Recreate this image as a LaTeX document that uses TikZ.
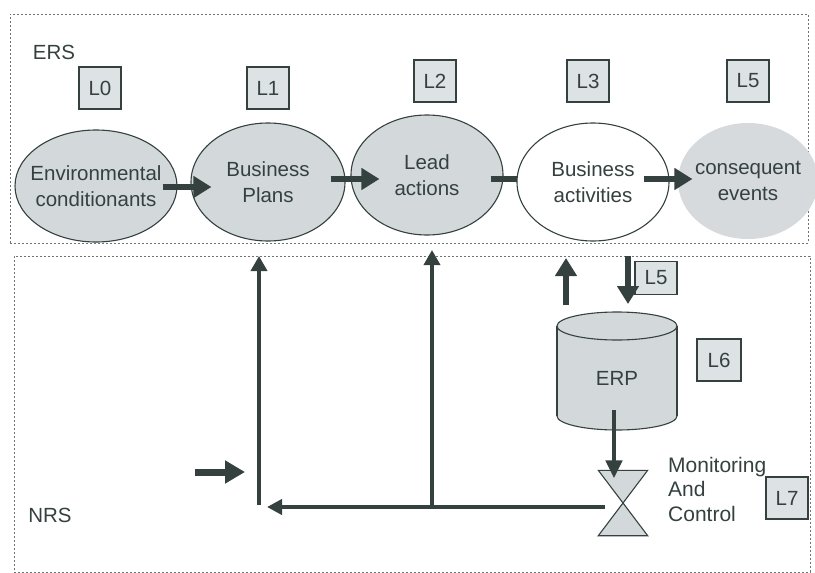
\documentclass[tikz,border=0pt]{standalone}
\usepackage{fontspec}
\setmainfont{Liberation Sans}
\usetikzlibrary{arrows.meta,shapes.geometric,calc}
\definecolor{ink}{HTML}{34413F}
\definecolor{fillA}{HTML}{D3D9DB}
\definecolor{fillB}{HTML}{DDE2E4}
\definecolor{fillC}{HTML}{D6DADC}
\definecolor{dashc}{HTML}{6E7675}
\begin{document}
\begin{tikzpicture}[x=1pt,y=-1pt,
 lbl/.style={font=\fontsize{20.5}{23}\selectfont, text=ink, inner sep=0pt},
 etext/.style={align=center, font=\fontsize{20.5}{25.5}\selectfont, text=ink, inner sep=0pt},
 ell/.style={ellipse, draw=ink, line width=1.1pt, fill=fillA, inner sep=0pt},
 tag/.style={rectangle, draw=ink, line width=1.3pt, fill=fillB, minimum width=42pt, minimum height=42pt, inner sep=0pt, font=\fontsize{20.5}{23}\selectfont, text=ink},
 region/.style={rectangle, draw=dashc, line width=0.8pt, dash pattern=on 2pt off 2pt, inner sep=0pt, anchor=north west},
 bigarrow/.style={draw=ink, line width=6pt, -{Triangle[length=18pt,width=21pt]}},
 thinarrow/.style={draw=ink, line width=3.5pt, -{Triangle[length=15pt,width=16pt]}},
 stub/.style={draw=ink, line width=6pt},
 glass/.style={draw=ink, line width=1.1pt, fill=fillA, line join=miter},
]
\useasboundingbox (0,0) rectangle (815,573);

% regions
\node[region, minimum width=798pt, minimum height=229pt] (ers) at (10,14) {};
\node[region, minimum width=796pt, minimum height=316pt] (nrs) at (14,256) {};
\node[lbl] (ersl) at (54,52) {ERS};
\node[lbl] (nrsl) at (50,515) {NRS};

% tags
\node[tag] (l0) at (100,88) {L0};
\node[tag] (l1) at (268,88) {L1};
\node[tag] (l2) at (435,81) {L2};
\node[tag] (l3) at (588,81) {L3};
\node[tag] (l5) at (748,81) {L5};
\node[tag, minimum height=33pt] (l5b) at (656,278) {L5};
\node[tag, minimum width=44pt] (l6) at (719,360) {L6};
\node[tag] (l7) at (787,498) {L7};

% ellipses
\node[ell, minimum width=162pt, minimum height=112pt, label={[etext]center:Environmental\\conditionants}] (env) at (96,186) {};
\node[ell, minimum width=154pt, minimum height=118pt, label={[etext]center:Business\\Plans}] (bp) at (268,182) {};
\node[ell, minimum width=152pt, minimum height=120pt, label={[etext]center:Lead\\actions}] (lead) at (427,175) {};
\node[ell, fill=white, minimum width=152pt, minimum height=118pt, label={[etext]center:Business\\activities}] (ba) at (593,182) {};
\node[ell, draw=none, fill=fillC, minimum width=140pt, minimum height=116pt, label={[etext]center:consequent\\events}] (ce) at (748,181) {};

% arrows between ellipses
\draw[bigarrow] ([xshift=-15pt,yshift=-1pt]env.east) -- ([xshift=21pt,yshift=-5pt]bp.west);
\draw[bigarrow] ([xshift=-15pt,yshift=3pt]bp.east) -- ([xshift=29pt,yshift=-4pt]lead.west);
\draw[stub] ([xshift=-13pt,yshift=-4pt]lead.east) -- ([xshift=1pt,yshift=3pt]ba.west);
\draw[bigarrow] ([xshift=-26pt,yshift=3pt]ba.east) -- ([xshift=15pt,yshift=2pt]ce.west);

% ERP cylinder
\draw[draw=ink, line width=1.1pt, fill=fillA] (617,416) ellipse [x radius=60, y radius=14];
\fill[fillA] (557,326) rectangle (677,416);
\draw[ink, line width=1.1pt] (557,326) -- (557,416) (677,326) -- (677,416);
\draw[draw=ink, line width=1.1pt, fill=fillA] (617,326) ellipse [x radius=60, y radius=14];
\node[lbl] (erp) at (617,378) {ERP};

% hourglass
\node[minimum width=49pt, minimum height=65pt, inner sep=0pt] (hg) at (623,503) {};
\draw[glass] (hg.north west) -- (hg.north east) -- (hg.center) -- cycle;
\draw[glass] (hg.center) -- (hg.south west) -- (hg.south east) -- cycle;
\node[lbl, align=left, anchor=west, font=\fontsize{21}{24.5}\selectfont] (mon) at (668,489) {Monitoring\\And\\Control};

% ERS <-> ERP
\coordinate (u0) at (566,305);
\coordinate (d1) at (628,304);
\draw[bigarrow] (u0) -- ($(u0 |- nrs.north)+(0,2)$);
\draw[bigarrow] (d1 |- nrs.north) -- (d1);

% ERP -> monitoring
\draw[draw=ink, line width=4.5pt, -{Triangle[length=18pt,width=16pt]}] ([xshift=-3pt,yshift=-32pt]erp.center) -- ([xshift=-9pt,yshift=-8pt]hg.north);

% feedback
\coordinate (j1) at (259,507);
\coordinate (j2) at (432,507);
\draw[draw=ink, line width=4.5pt, -{Triangle[length=15pt,width=15pt]}] ([xshift=-18pt,yshift=-4pt]hg.center) -- ([xshift=8pt]j1);
\draw[thinarrow] ([yshift=2pt]j1) -- (j1 |- nrs.north);
\draw[thinarrow] ([yshift=2pt]j2) -- ($(j2 |- nrs.north)+(0,-6)$);

% external input
\coordinate (in0) at (195,472);
\coordinate (in1) at (245,472);
\draw[draw=ink, line width=7pt, -{Triangle[length=20pt,width=22pt]}] (in0) -- (in1);
\end{tikzpicture}
\end{document}
